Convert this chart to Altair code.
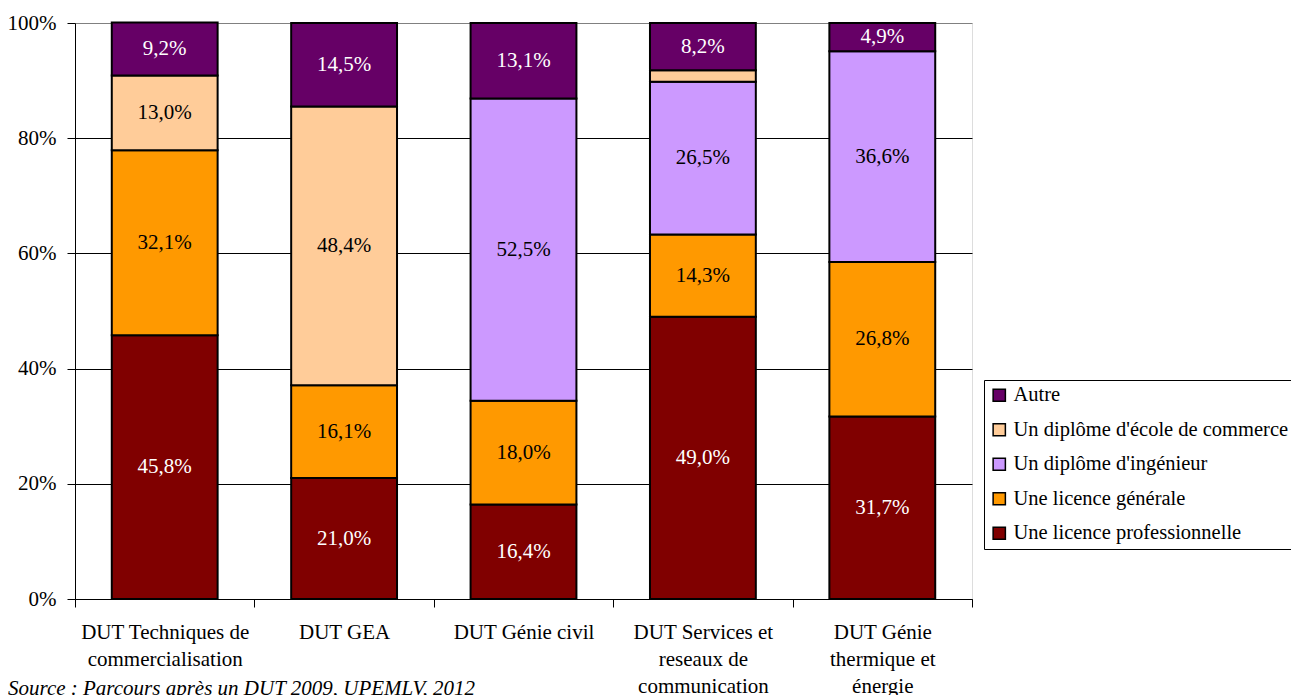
import altair as alt
import pandas as pd

categories = [
    "DUT Techniques de commercialisation",
    "DUT GEA",
    "DUT Génie civil",
    "DUT Services et reseaux de communication",
    "DUT Génie thermique et énergie",
]
category_lines = [
    ["DUT Techniques de", "commercialisation"],
    ["DUT GEA"],
    ["DUT Génie civil"],
    ["DUT Services et", "reseaux de", "communication"],
    ["DUT Génie", "thermique et", "énergie"],
]
series = [
    "Une licence professionnelle",
    "Une licence générale",
    "Un diplôme d'ingénieur",
    "Un diplôme d'école de commerce",
    "Autre",
]
licence_pro = [45.8, 21.0, 16.4, 49.0, 31.7]
licence_gen = [32.1, 16.1, 18.0, 14.3, 26.8]
ingenieur = [0.0, 0.0, 52.5, 26.5, 36.6]
commerce = [13.0, 48.4, 0.0, 2.0, 0.0]
autre = [9.2, 14.5, 13.1, 8.2, 4.9]
colors = ["#800000", "#FF9900", "#CC99FF", "#FFCC99", "#660066"]
source = "Source : Parcours après un DUT 2009, UPEMLV, 2012"

values = [licence_pro, licence_gen, ingenieur, commerce, autre]
rows = []
for i, c in enumerate(categories):
    for j, s in enumerate(series):
        v = values[j][i]
        if v > 0:
            rows.append({"cat": c, "serie": s, "v": v, "ord": j})
df = pd.DataFrame(rows)

FONT = "Times New Roman, Liberation Serif, serif"
FS = 21
W, H = 897, 576

legend_order = list(reversed(series))
legend_colors = list(reversed(colors))

mapping = "{" + ", ".join(
    "'" + c + "': [" + ", ".join("'" + l + "'" for l in lines) + "]"
    for c, lines in zip(categories, category_lines)
) + "}"

base = alt.Chart(df).transform_stack(
    stack="v", groupby=["cat"], sort=[alt.SortField("ord", order="ascending")], as_=["y0", "y1"]
).transform_calculate(
    mid="(datum.y0 + datum.y1) / 2",
    lab="replace(format(datum.v, '.1f'), '.', ',') + '%'",
)

xenc = alt.X(
    "cat:N",
    sort=categories,
    scale=alt.Scale(paddingInner=0, paddingOuter=0),
    axis=alt.Axis(
        title=None,
        labelExpr=mapping + "[datum.label]",
        labelFont=FONT,
        labelFontSize=FS,
        labelColor="black",
        labelLineHeight=27,
        labelPadding=14,
        labelAngle=0,
        labelBaseline="top",
        tickBand="extent",
        tickSize=8,
        tickColor="black",
        domainColor="black",
        grid=False,
    ),
)

bars = base.mark_bar(stroke="black", strokeWidth=2, width=alt.RelativeBandSize(0.59)).encode(
    x=xenc,
    y=alt.Y(
        "y0:Q",
        scale=alt.Scale(domain=[0, 100], nice=False),
        axis=alt.Axis(
            title=None,
            values=[0, 20, 40, 60, 80, 100],
            labelExpr="datum.value + '%'",
            labelFont=FONT,
            labelFontSize=FS,
            labelColor="black",
            labelPadding=11,
            tickSize=8,
            tickColor="black",
            domainColor="black",
            grid=True,
            gridColor={"condition": {"test": "datum.value === 100", "value": "#808080"}, "value": "black"},
            gridWidth=1,
        ),
    ),
    y2="y1:Q",
    color=alt.Color(
        "serie:N",
        scale=alt.Scale(domain=legend_order, range=legend_colors),
        legend=alt.Legend(
            title=None,
            orient="none",
            legendX=909,
            legendY=357,
            symbolType="square",
            symbolSize=150,
            symbolStrokeColor="black",
            symbolStrokeWidth=1.5,
            labelFont=FONT,
            labelFontSize=20.5,
            labelColor="black",
            labelLimit=400,
            rowPadding=13.5,
            strokeColor="black",
            fillColor="white",
            padding=5,
        ),
    ),
)

labels = base.transform_filter("datum.v >= 4").mark_text(font=FONT, fontSize=FS).encode(
    x=alt.X("cat:N", sort=categories),
    y=alt.Y("mid:Q"),
    text="lab:N",
    color=alt.condition(
        "datum.serie == 'Autre' || datum.serie == 'Une licence professionnelle'",
        alt.value("white"),
        alt.value("black"),
    ),
)

src = alt.Chart(pd.DataFrame({"t": [source]})).mark_text(
    font=FONT, fontSize=FS, fontStyle="italic", align="left", baseline="alphabetic", color="black"
).encode(text="t:N", x=alt.value(-67), y=alt.value(H + 96))

chart = alt.layer(bars, labels, src).properties(
    width=W,
    height=H,
    autosize=alt.AutoSizeParams(type="none"),
    padding={"left": 67, "top": 15, "right": 319, "bottom": 104},
).configure_view(fill="#FFFFCC", strokeWidth=0).configure(background="white")

chart.save("out.html", embed_options={"renderer": "svg", "actions": False})
